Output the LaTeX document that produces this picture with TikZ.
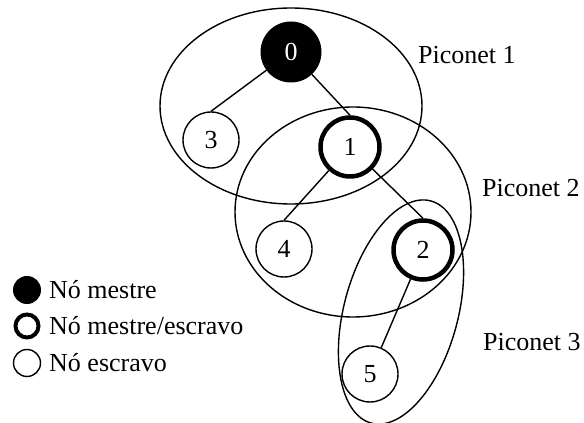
\documentclass[tikz,border=0pt]{standalone}
\usepackage{fontspec}
\setmainfont{Liberation Serif}
\begin{document}
\begin{tikzpicture}[x=1pt,y=1pt,
  every node/.style={font=\fontsize{26}{31}\selectfont},
  thinline/.style={line width=1.4pt},
  slave/.style={circle,draw,thinline,inner sep=0pt,minimum size=56pt},
  mastslave/.style={circle,draw,line width=4.5pt,inner sep=0pt,minimum size=59pt},
  master/.style={circle,fill=black,text=white,inner sep=0pt,minimum size=61pt},
  lab/.style={anchor=west,inner sep=0pt}]
\useasboundingbox (0,0) rectangle (584,423);
% piconets
\draw[thinline] (291,317) ellipse [x radius=131, y radius=98];
\draw[thinline] (353,211) ellipse [x radius=118, y radius=105];
\draw[thinline, shift={(401,111)}, rotate=-15] (0,0) ellipse [x radius=57, y radius=115];
% nodes
\node[master] (n0) at (291,371) {0};
\node[slave] (n3) at (211,283) {3};
\node[mastslave] (n1) at (350,276) {1};
\node[slave] (n4) at (284,174) {4};
\node[mastslave] (n2) at (423,173) {2};
\node[slave] (n5) at (370,49) {5};
% edges
\draw[thinline] (n0) -- (n3.north);
\draw[thinline] (n0) -- (n1.north);
\draw[thinline] (n1) -- (n4.north);
\draw[thinline] (n1) -- (n2.north);
\draw[thinline] (n2) -- (n5);
% labels
\node[lab] (p1) at (418,368) {Piconet 1};
\node[lab] (p2) at (482,235) {Piconet 2};
\node[lab] (p3) at (483,81) {Piconet 3};
% legend
\node[circle,fill=black,inner sep=0pt,minimum size=28pt] (l1) at (27,133) {};
\node[circle,draw,line width=4pt,inner sep=0pt,minimum size=23pt] (l2) at (27,97) {};
\node[circle,draw,thinline,inner sep=0pt,minimum size=27pt] (l3) at (27,60) {};
\node[lab] (t1) at (49,133) {Nó mestre};
\node[lab] (t2) at (49,97) {Nó mestre/escravo};
\node[lab] (t3) at (49,60) {Nó escravo};
\end{tikzpicture}
\end{document}
